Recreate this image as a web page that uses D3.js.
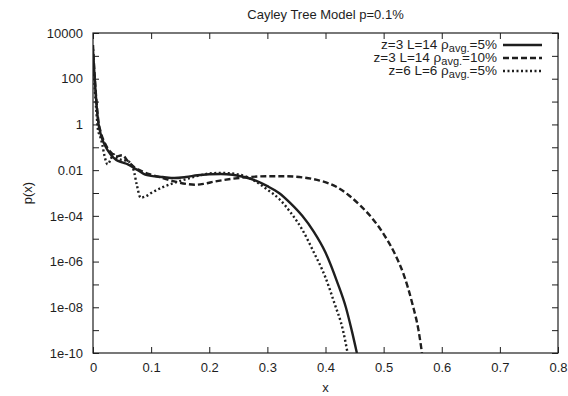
<!DOCTYPE html>
<html>
<head>
<meta charset="utf-8">
<script src="https://cdn.jsdelivr.net/npm/d3@7"></script>
<style>
  body { margin: 0; background: #fff; }
  svg { font-family: "Liberation Sans", Arial, Helvetica, sans-serif; }
</style>
</head>
<body>
<div id="chart"></div>
<script>
// z=3 L=14 rho_avg=5%  (solid)
const solidX = [0, 0.002, 0.004, 0.006, 0.009, 0.014, 0.02, 0.03, 0.04, 0.05, 0.06, 0.07, 0.08, 0.09, 0.1, 0.12, 0.14, 0.16, 0.18, 0.2, 0.22, 0.24, 0.26, 0.28, 0.3, 0.32, 0.34, 0.36, 0.38, 0.4, 0.42, 0.435, 0.445, 0.454];
const solidP = [2e3, 2.5e2, 40, 8, 1.3, 0.32, 0.13, 0.05, 0.028, 0.022, 0.018, 0.0126, 0.0089, 0.0063, 0.0056, 0.005, 0.0045, 0.005, 0.006, 0.0066, 0.0068, 0.0063, 0.005, 0.0035, 0.002, 1e-3, 3.5e-4, 1e-4, 2e-5, 2.5e-6, 1.3e-7, 1e-8, 1e-9, 1e-10];

// z=3 L=14 rho_avg=10%  (dashed)
const dashX = [0, 0.002, 0.004, 0.006, 0.009, 0.014, 0.02, 0.03, 0.04, 0.05, 0.06, 0.07, 0.08, 0.1, 0.12, 0.14, 0.16, 0.175, 0.19, 0.21, 0.24, 0.27, 0.3, 0.33, 0.36, 0.39, 0.42, 0.44, 0.46, 0.48, 0.5, 0.52, 0.535, 0.55, 0.56, 0.566];
const dashP = [3e3, 3e2, 50, 10, 1.6, 0.4, 0.16, 0.063, 0.04, 0.045, 0.025, 0.014, 0.01, 0.0063, 0.0045, 0.0032, 0.0025, 0.0023, 0.0025, 0.0032, 0.0042, 0.005, 0.0054, 0.0054, 0.0048, 0.0035, 0.0018, 8e-4, 2.8e-4, 8e-5, 1.6e-5, 2e-6, 2.5e-7, 1.26e-8, 1e-9, 1e-10];

// z=6 L=6 rho_avg=5%  (dotted)
const dotX = [0, 0.002, 0.004, 0.006, 0.009, 0.012, 0.016, 0.02, 0.025, 0.03, 0.035, 0.04, 0.05, 0.06, 0.07, 0.075, 0.082, 0.09, 0.1, 0.12, 0.14, 0.16, 0.18, 0.2, 0.22, 0.24, 0.26, 0.28, 0.3, 0.32, 0.34, 0.36, 0.38, 0.4, 0.415, 0.43, 0.438];
const dotP = [1e3, 1e2, 16, 3.2, 0.5, 0.32, 0.13, 0.04, 0.018, 0.028, 0.05, 0.035, 0.028, 0.025, 0.01, 0.0025, 6.3e-4, 7e-4, 1e-3, 0.0018, 0.0028, 0.004, 0.0056, 0.0071, 0.0076, 0.0071, 0.0056, 0.0032, 0.0014, 5.6e-4, 1.4e-4, 2.5e-5, 2.5e-6, 2e-7, 1.6e-8, 1e-9, 1e-10];

const xTicks = [0, 0.1, 0.2, 0.3, 0.4, 0.5, 0.6, 0.7, 0.8];
const yTicks = [1e4, 1e3, 1e2, 1e1, 1, 0.1, 0.01, 1e-3, 1e-4, 1e-5, 1e-6, 1e-7, 1e-8, 1e-9, 1e-10];
const yLabels = {"10000": "10000", "100": "100", "1": "1", "0.01": "0.01", "0.0001": "1e-04", "0.000001": "1e-06", "1e-8": "1e-08", "1e-10": "1e-10"};

const legendNames = [["z=3 L=14 ", "=5%"], ["z=3 L=14 ", "=10%"], ["z=6 L=6 ", "=5%"]];
const seriesDash = [null, "6,3", "2,2.5"];

const width = 568, height = 396;
const plot = {left: 93, right: 558, top: 33, bottom: 353};
const ink = "#1e1e1e";

const svg = d3.select("#chart").append("svg")
  .attr("width", width)
  .attr("height", height);

const xScale = d3.scaleLinear().domain([0, 0.8]).range([plot.left, plot.right]);
const yScale = d3.scaleLog().domain([1e-10, 1e4]).range([plot.bottom, plot.top]);

svg.append("clipPath").attr("id", "clip")
  .append("rect")
  .attr("x", plot.left).attr("y", plot.top)
  .attr("width", plot.right - plot.left)
  .attr("height", plot.bottom - plot.top);

// title
svg.append("text")
  .attr("x", (plot.left + plot.right) / 2)
  .attr("y", 19)
  .attr("text-anchor", "middle")
  .style("font-size", "13px")
  .attr("fill", ink)
  .text("Cayley Tree Model p=0.1%");

// axes, ticks pointing inward on all four sides
svg.append("g")
  .attr("transform", "translate(0," + plot.bottom + ")")
  .call(d3.axisBottom(xScale).tickValues(xTicks).tickSize(-6).tickPadding(10).tickFormat(d => d === 0 ? "0" : d3.format(".1f")(d)))
  .call(g => g.select(".domain").remove());

svg.append("g")
  .attr("transform", "translate(0," + plot.top + ")")
  .call(d3.axisTop(xScale).tickValues(xTicks).tickSize(-6).tickFormat(""))
  .call(g => g.select(".domain").remove());

svg.append("g")
  .attr("transform", "translate(" + plot.left + ",0)")
  .call(d3.axisLeft(yScale).tickValues(yTicks).tickSize(-6).tickPadding(10).tickFormat(d => yLabels[String(d)] || ""))
  .call(g => g.select(".domain").remove());

svg.append("g")
  .attr("transform", "translate(" + plot.right + ",0)")
  .call(d3.axisRight(yScale).tickValues(yTicks).tickSize(-6).tickFormat(""))
  .call(g => g.select(".domain").remove());

svg.selectAll(".tick line").attr("stroke", ink).attr("stroke-width", 1);
svg.selectAll(".tick text").attr("fill", ink).style("font-size", "13px");

svg.append("rect")
  .attr("x", plot.left).attr("y", plot.top)
  .attr("width", plot.right - plot.left)
  .attr("height", plot.bottom - plot.top)
  .attr("fill", "none")
  .attr("stroke", ink)
  .attr("stroke-width", 1.2);

// axis titles
svg.append("text")
  .attr("x", (plot.left + plot.right) / 2)
  .attr("y", 392)
  .attr("text-anchor", "middle")
  .style("font-size", "13px")
  .attr("fill", ink)
  .text("x");

svg.append("text")
  .attr("transform", "translate(32," + ((plot.top + plot.bottom) / 2) + ") rotate(-90)")
  .attr("text-anchor", "middle")
  .style("font-size", "13px")
  .attr("fill", ink)
  .text("p(x)");

// curves
const line = d3.line()
  .x(d => xScale(d[0]))
  .y(d => yScale(d[1]))
  .curve(d3.curveMonotoneX);

const series = [d3.zip(solidX, solidP), d3.zip(dashX, dashP), d3.zip(dotX, dotP)];

const curves = svg.append("g").attr("clip-path", "url(#clip)");
series.forEach((s, i) => {
  curves.append("path")
    .datum(s)
    .attr("fill", "none")
    .attr("stroke", ink)
    .attr("stroke-width", 2.4)
    .attr("stroke-dasharray", seriesDash[i])
    .attr("d", line);
});

// legend (right aligned text, sample line on the right)
const legend = svg.append("g");
legendNames.forEach((n, i) => {
  const y = 45 + i * 13;
  const t = legend.append("text")
    .attr("x", 497)
    .attr("y", y + 4)
    .attr("text-anchor", "end")
    .style("font-size", "13.5px")
    .attr("fill", ink);
  t.append("tspan").text(n[0] + "\u03C1");
  t.append("tspan").attr("dy", 2.5).style("font-size", "11px").text("avg.");
  t.append("tspan").attr("dy", -2.5).text(n[1]);
  legend.append("line")
    .attr("x1", 503).attr("x2", 542)
    .attr("y1", y).attr("y2", y)
    .attr("stroke", ink)
    .attr("stroke-width", 2.4)
    .attr("stroke-dasharray", seriesDash[i]);
});
</script>
</body>
</html>
